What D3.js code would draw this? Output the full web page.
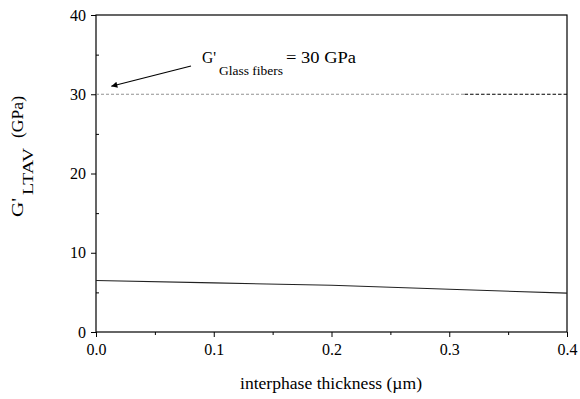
<!DOCTYPE html>
<html>
<head>
<meta charset="utf-8">
<script src="https://cdn.jsdelivr.net/npm/d3@7"></script>
<style>
  body { margin: 0; background: #fff; }
  text { font-family: "Liberation Serif", "DejaVu Serif", "Times New Roman", serif; fill: #000; }
</style>
</head>
<body>
<div id="chart"></div>
<script>
// data
var thickness = [0, 0.1, 0.2, 0.3, 0.4];
var gLTAV = [6.5, 6.2, 5.9, 5.4, 4.9];
var glassFiberG = 30;
var glassSplit = 0.313; // where the dashed reference line turns darker
var xTicks = [0, 0.1, 0.2, 0.3, 0.4];
var yTicks = [0, 10, 20, 30, 40];

var serif = '"Liberation Serif", "DejaVu Serif", "Times New Roman", serif';
var width = 580, height = 399;
var margin = {top: 15, right: 13, bottom: 67, left: 96};

var svg = d3.select("#chart")
  .append("svg")
  .attr("width", width)
  .attr("height", height);

var x = d3.scaleLinear().domain([0, 0.4]).range([margin.left, width - margin.right]);
var y = d3.scaleLinear().domain([0, 40]).range([height - margin.bottom, margin.top]);

// frame
svg.append("rect")
  .attr("x", x(0)).attr("y", y(40))
  .attr("width", x(0.4) - x(0)).attr("height", y(0) - y(40))
  .attr("fill", "none").attr("stroke", "#000").attr("stroke-width", 1.2);

// axes
var xAxis = d3.axisBottom(x).tickValues(xTicks).tickFormat(d3.format(".1f")).tickSize(5).tickPadding(7);
var xMinor = d3.axisBottom(x).tickValues([0.05, 0.15, 0.25, 0.35]).tickFormat("").tickSize(3);
var yAxis = d3.axisLeft(y).tickValues(yTicks).tickSize(5).tickPadding(5);
var yMinor = d3.axisRight(y).tickValues([5, 15, 25, 35]).tickFormat("").tickSize(3);

svg.append("g").attr("transform", "translate(0," + y(0) + ")").call(xAxis);
svg.append("g").attr("transform", "translate(0," + y(0) + ")").call(xMinor);
svg.append("g").attr("transform", "translate(" + x(0) + ",0)").call(yAxis);
svg.append("g").attr("transform", "translate(" + x(0) + ",0)").call(yMinor);

svg.selectAll(".domain").remove();
svg.selectAll("g").attr("font-family", serif);
svg.selectAll(".tick line").attr("stroke", "#000");
svg.selectAll(".tick text")
  .style("font-family", serif)
  .style("font-size", "16px")
  .attr("fill", "#000");

// reference line for glass fibers
svg.append("line")
  .attr("x1", x(0)).attr("x2", x(glassSplit))
  .attr("y1", y(glassFiberG)).attr("y2", y(glassFiberG))
  .attr("stroke", "#777").attr("stroke-width", 0.8)
  .attr("stroke-dasharray", "3,2");
svg.append("line")
  .attr("x1", x(glassSplit)).attr("x2", x(0.4))
  .attr("y1", y(glassFiberG)).attr("y2", y(glassFiberG))
  .attr("stroke", "#000").attr("stroke-width", 1)
  .attr("stroke-dasharray", "3.5,2");

// data curve
var line = d3.line()
  .x((d, i) => x(thickness[i]))
  .y((d) => y(d));

svg.append("path")
  .datum(gLTAV)
  .attr("d", line)
  .attr("fill", "none")
  .attr("stroke", "#222")
  .attr("stroke-width", 1.1);

// annotation arrow
svg.append("defs").append("marker")
  .attr("id", "head")
  .attr("viewBox", "0 0 10 10")
  .attr("refX", 10).attr("refY", 5)
  .attr("markerWidth", 14).attr("markerHeight", 6)
  .attr("markerUnits", "userSpaceOnUse")
  .attr("orient", "auto")
  .append("path")
  .attr("d", "M0,0 L10,5 L0,10 Z")
  .attr("fill", "#000");

svg.append("line")
  .attr("x1", 191).attr("y1", 66)
  .attr("x2", x(0.013)).attr("y2", y(glassFiberG) - 8)
  .attr("stroke", "#000").attr("stroke-width", 1.2)
  .attr("marker-end", "url(#head)");

// text pieces stretched to the widths seen in the picture
function label(g, str, px, py, size, len) {
  return g.append("text")
    .attr("x", px).attr("y", py)
    .attr("textLength", len)
    .attr("lengthAdjust", "spacingAndGlyphs")
    .style("font-family", serif)
    .style("font-size", size + "px")
    .text(str);
}

label(svg, "G'", 202, 63, 16, 14);
label(svg, "Glass fibers", 219, 75, 13, 64);
label(svg, "= 30 GPa", 286, 63, 16, 70);

// axis titles
label(svg, "interphase thickness (\u00b5m)", 240, 389, 16, 182);

var yt = svg.append("g").attr("transform", "translate(23,0) rotate(-90)");
label(yt, "G'", -217, 0, 17, 19);
label(yt, "LTAV", -195, 10, 15, 47);
label(yt, "(GPa)", -138, 0, 16, 42);
</script>
</body>
</html>
